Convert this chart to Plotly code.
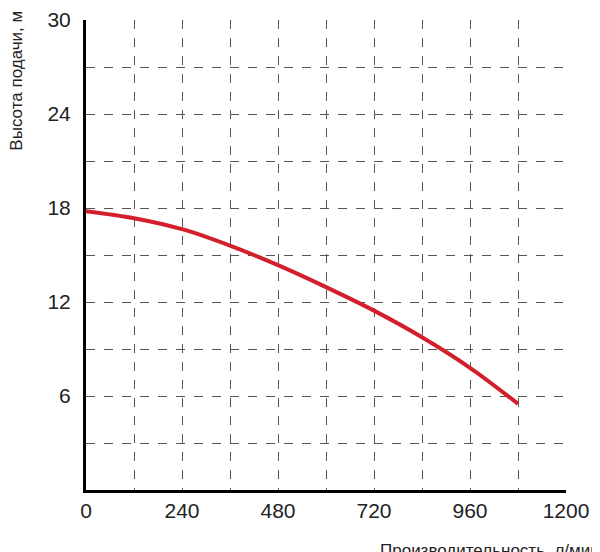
import plotly.graph_objects as go

flow = [0, 120, 240, 360, 480, 600, 720, 840, 960, 1080]
head = [17.8, 17.35, 16.65, 15.6, 14.35, 12.95, 11.45, 9.75, 7.8, 5.5]

x_grid = list(range(0, 1201, 120))
x_labels = ['0' if v == 0 else (str(v) if v % 240 == 0 else '') for v in x_grid]
y_grid = list(range(0, 31, 3))
y_labels = [str(v) if v % 6 == 0 and v > 0 else '' for v in y_grid]

fig = go.Figure()
fig.add_trace(go.Scatter(x=flow, y=head, mode='lines', line=dict(color='#d21f2b', width=4, shape='spline')))

axis_font = dict(family='Liberation Sans, Arial', size=21, color='#222')
fig.update_xaxes(range=[0, 1200], tickvals=x_grid, ticktext=x_labels, showgrid=True,
                 gridcolor='#555', griddash='dash', gridwidth=1, showline=True,
                 linecolor='black', linewidth=3, zeroline=False, tickfont=axis_font, ticks='',
                 automargin=False)
fig.update_yaxes(range=[0, 30], tickvals=y_grid, ticktext=y_labels, showgrid=True,
                 gridcolor='#555', griddash='dash', gridwidth=1, showline=True,
                 linecolor='black', linewidth=3, zeroline=False, tickfont=axis_font, ticks='',
                 ticklabelstandoff=8, automargin=False)

fig.update_layout(
    width=600, height=552, showlegend=False,
    margin=dict(l=78, r=42, t=12, b=70, autoexpand=False),
    plot_bgcolor='white', paper_bgcolor='white',
    annotations=[
        dict(text='Высота подачи, м', xref='paper', yref='paper', x=-0.145, y=1.025,
             xanchor='center', yanchor='top', textangle=-90, showarrow=False,
             font=dict(family='Liberation Sans, Arial', size=17, color='#222')),
        dict(text='Производительность, л/мин', xref='paper', yref='paper', x=1.075, y=-0.105,
             xanchor='right', yanchor='top', showarrow=False,
             font=dict(family='Liberation Sans, Arial', size=17, color='#222')),
    ],
)

fig.write_html('out.html')
